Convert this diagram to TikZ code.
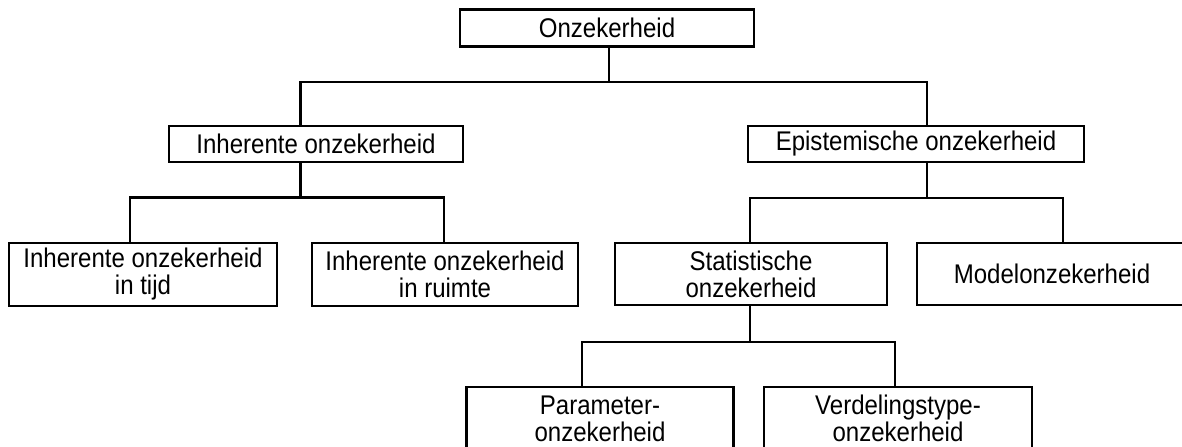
\documentclass[tikz,border=0pt]{standalone}
\usepackage{fontspec}
\setmainfont{Liberation Sans}[FakeStretch=0.89]
\begin{document}
\begin{tikzpicture}[x=0.5pt,y=-0.5pt,
  box/.style={draw=black, line width=1.25pt, fill=white, outer sep=0pt, inner sep=0pt,
    align=center, font=\fontsize{13.5}{13.5}\selectfont},
  conn/.style={draw=black, line width=1.25pt, line cap=rect}]
\useasboundingbox (0,0) rectangle (1182,446);
\clip (0,0) rectangle (1182,446);
\fill[white] (0,0) rectangle (1182,446);
% nodes
\node[box, minimum width=147pt, minimum height=18.7pt] (top) at (607,28) {Onzekerheid};
\node[box, minimum width=147pt, minimum height=18pt] (inh) at (316,144) {Inherente onzekerheid};
\node[box, minimum width=168pt, minimum height=18pt] (epi) at (916,144) {Epistemische onzekerheid};
\node[box, minimum width=134pt, minimum height=31.5pt] (inht) at (143,274.5) {Inherente onzekerheid\\in tijd};
\node[box, minimum width=133pt, minimum height=31.5pt] (inhr) at (445,274.5) {Inherente onzekerheid\\in ruimte};
\node[box, minimum width=136pt, minimum height=31pt] (stat) at (751,274) {Statistische\\onzekerheid};
\node[box, minimum width=135pt, minimum height=31pt] (model) at (1052,274) {Modelonzekerheid};
\node[box, minimum width=133.5pt, minimum height=31.5pt] (param) at (600,418.5) {Parameter-\\onzekerheid};
\node[box, minimum width=134pt, minimum height=31.5pt] (verd) at (898,418.5) {Verdelingstype-\\onzekerheid};
% connectors
\draw[conn] ([xshift=1pt]top.south) -- ++(0,35.3) -| ([xshift=-7.65pt]inh.north);
\draw[conn] ([xshift=1pt]top.south) -- ++(0,35.3) -| ([xshift=5.5pt]epi.north);
\draw[conn] ([xshift=-7.65pt]inh.south) -- ++(0,35.3) -| ([xshift=-6.5pt]inht.north);
\draw[conn] ([xshift=-7.65pt]inh.south) -- ++(0,35.3) -| ([xshift=-0.5pt]inhr.north);
\draw[conn] ([xshift=5.5pt]epi.south) -- ++(0,36) -| ([xshift=-0.5pt]stat.north);
\draw[conn] ([xshift=5.5pt]epi.south) -- ++(0,36) -| ([xshift=5.5pt]model.north);
\draw[conn] ([xshift=-0.5pt]stat.south) -- ++(0,37) -| ([xshift=-9pt]param.north);
\draw[conn] ([xshift=-0.5pt]stat.south) -- ++(0,37) -| ([xshift=-1.5pt]verd.north);
\end{tikzpicture}
\end{document}
